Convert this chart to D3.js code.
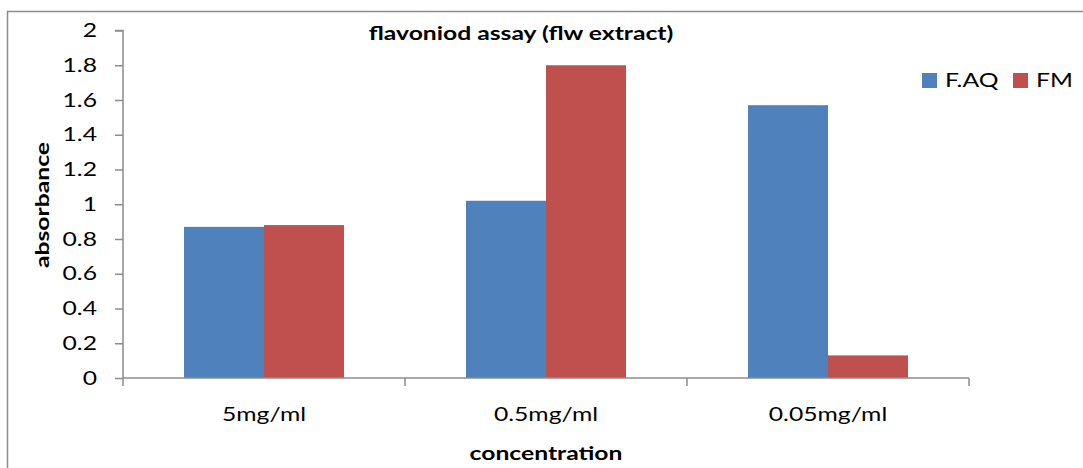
<!DOCTYPE html>
<html>
<head>
<meta charset="utf-8">
<script src="https://cdn.jsdelivr.net/npm/d3@7"></script>
<style>
  html, body { margin: 0; padding: 0; background: #fff; }
  svg { display: block; font-family: Lato, "Open Sans", sans-serif; }
</style>
</head>
<body>
<svg id="chart" width="1083" height="468"></svg>
<script>
// Flavonoid assay absorbance readings by extract concentration
const categories = ["5mg/ml", "0.5mg/ml", "0.05mg/ml"];
const seriesNames = ["F.AQ", "FM"];
const faqValues = [0.87, 1.02, 1.57];
const fmValues = [0.88, 1.80, 0.13];
const yTicks = [0, 0.2, 0.4, 0.6, 0.8, 1, 1.2, 1.4, 1.6, 1.8, 2];
const colors = ["#4f81bd", "#c0504d"];

const series = [faqValues, fmValues];
const rows = categories.map((c, i) => ({ cat: c, vals: series.map(s => s[i]) }));

const FS = 19;     // font size
const SX = 1.3;    // horizontal widening of the glyphs

const svg = d3.select("#chart");

// places a text whose glyphs are widened horizontally around its anchor point
function label(parent, x, y, txt, opts = {}) {
  const g = parent.append("g").attr("transform", `translate(${x},${y})${opts.rotate ? ` rotate(${opts.rotate})` : ""}`);
  return g.append("text")
    .attr("transform", `scale(${SX},1)`)
    .attr("text-anchor", opts.anchor || "middle")
    .attr("font-size", FS)
    .attr("font-weight", opts.bold ? "bold" : "normal")
    .attr("fill", "#000")
    .text(txt);
}

// outer chart frame (top and left edges visible)
svg.append("path")
  .attr("d", "M7.5,468 L7.5,11.5 L1083,11.5")
  .attr("fill", "none").attr("stroke", "#8c8c8c").attr("stroke-width", 1.5);

const plot = { left: 123, right: 969, top: 30.5, bottom: 378 };

const x0 = d3.scaleBand().domain(categories).range([plot.left, plot.right]).paddingInner(0).paddingOuter(0);
const innerPad = 61 / 282; // gap on each side of a group, as share of the category width
const x1 = d3.scaleBand().domain(seriesNames)
  .range([x0.bandwidth() * innerPad, x0.bandwidth() * (1 - innerPad)]);
const y = d3.scaleLinear().domain([0, 2]).range([plot.bottom, plot.top]);

// bars
const groups = svg.append("g").selectAll("g").data(rows).join("g")
  .attr("transform", d => `translate(${x0(d.cat)},0)`);
groups.selectAll("rect").data(d => d.vals.map((v, k) => ({ key: seriesNames[k], v, k })))
  .join("rect")
  .attr("x", d => x1(d.key))
  .attr("width", x1.bandwidth())
  .attr("y", d => y(d.v))
  .attr("height", d => y(0) - y(d.v))
  .attr("fill", d => colors[d.k]);

// y axis
const yAxis = d3.axisLeft(y).tickValues(yTicks).tickSize(8)
  .tickFormat(d => d3.format("")(+d.toFixed(1)));
const gy = svg.append("g").attr("transform", `translate(${plot.left},0)`).call(yAxis);
gy.select(".domain").attr("stroke", "#8c8c8c").attr("stroke-width", 1.5)
  .attr("d", `M-8,${plot.top}H0V${plot.bottom}`);
gy.selectAll(".tick line").attr("stroke", "#8c8c8c").attr("stroke-width", 1.5);
gy.selectAll(".tick text").attr("fill", "#000").attr("font-size", FS)
  .attr("font-family", "Lato, sans-serif")
  .attr("x", -26 / SX)
  .attr("transform", `scale(${SX},1)`);

// x axis with ticks at category boundaries
const gx = svg.append("g").attr("transform", `translate(0,${plot.bottom})`);
gx.append("line").attr("x1", plot.left).attr("x2", plot.right)
  .attr("stroke", "#8c8c8c").attr("stroke-width", 1.5);
const bounds = categories.map(c => x0(c)).concat([x0(categories[categories.length - 1]) + x0.bandwidth()]);
gx.selectAll(".bt").data(bounds).join("line").attr("class", "bt")
  .attr("x1", d => d).attr("x2", d => d).attr("y1", 0).attr("y2", 8)
  .attr("stroke", "#8c8c8c").attr("stroke-width", 1.5);
categories.forEach(c => label(gx, x0(c) + x0.bandwidth() / 2, 43, c));

// titles
label(svg, 521, 40, "flavoniod assay (flw extract)", { bold: true });
label(svg, 546, 460, "concentration", { bold: true });
label(svg, 49, 205, "absorbance", { bold: true, rotate: -90 });

// legend
const legendX = [922, 1013];
seriesNames.forEach((name, i) => {
  const g = svg.append("g").attr("transform", `translate(${legendX[i]},73)`);
  g.append("rect").attr("width", 15).attr("height", 15).attr("fill", colors[i]);
  label(g, 23, 14, name, { anchor: "start" });
});
</script>
</body>
</html>
